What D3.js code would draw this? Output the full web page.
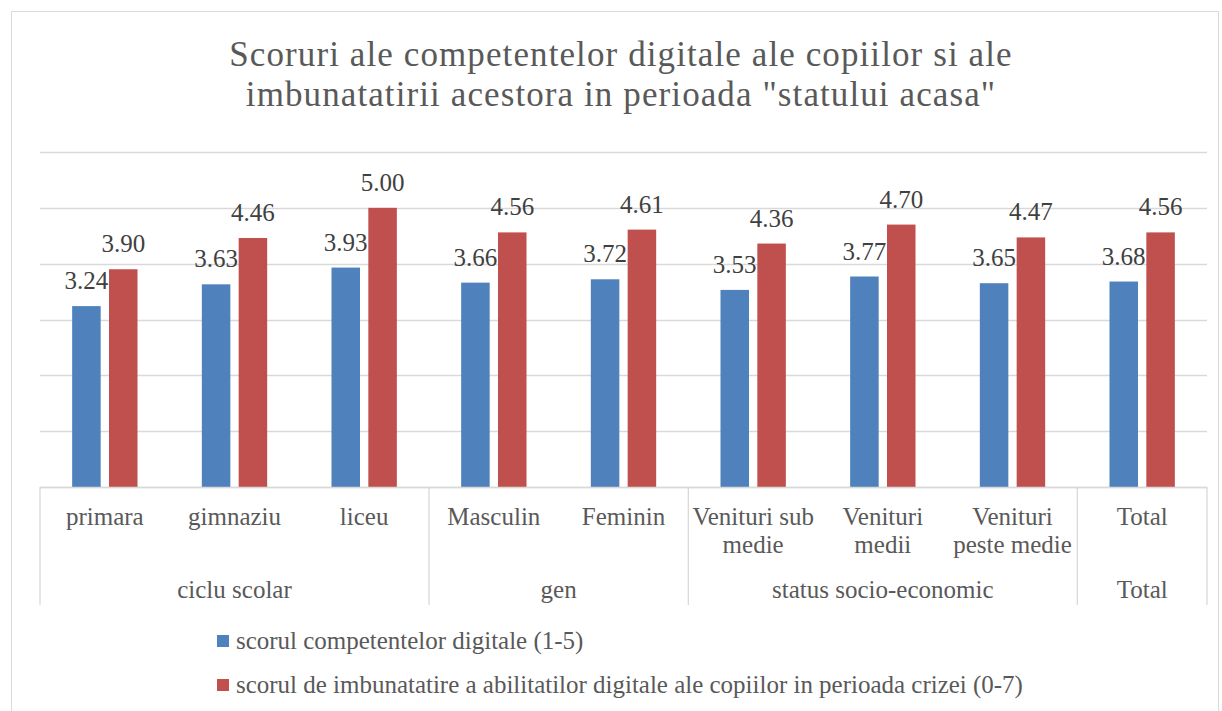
<!DOCTYPE html>
<html><head><meta charset="utf-8">
<script src="https://cdn.jsdelivr.net/npm/d3@7"></script>
<style>body{margin:0;background:#fff}svg{display:block}text{font-family:"Liberation Serif","Times New Roman",serif}</style>
</head><body>
<svg id="c" width="1222" height="711"></svg>
<script>
const titleLines = ["Scoruri ale competentelor digitale ale copiilor si ale", "imbunatatirii acestora in perioada \"statului acasa\""];
const categories = ["primara", "gimnaziu", "liceu", "Masculin", "Feminin", "Venituri sub\nmedie", "Venituri\nmedii", "Venituri\npeste medie", "Total"];
const groups = ["ciclu scolar", "gen", "status socio-economic", "Total"];
const groupSizes = [3, 2, 3, 1];
const seriesNames = ["scorul competentelor digitale (1-5)", "scorul de imbunatatire a abilitatilor digitale ale copiilor in perioada crizei (0-7)"];
const competente = [3.24, 3.63, 3.93, 3.66, 3.72, 3.53, 3.77, 3.65, 3.68];
const imbunatatire = [3.90, 4.46, 5.00, 4.56, 4.61, 4.36, 4.70, 4.47, 4.56];
const yTicks = [0, 1, 2, 3, 4, 5, 6];
const colors = ["#4F81BD", "#C0504D"];

const svg = d3.select("#c");
const L = 40, R = 1207, T = 152, B = 487;
const grid = "#d9d9d9";

svg.append("rect").attr("x", 11.5).attr("y", 11.5).attr("width", 1207).attr("height", 720)
  .attr("fill", "none").attr("stroke", grid).attr("stroke-width", 1);

// title
const tg = svg.append("g");
titleLines.forEach((t, i) => {
  tg.append("text").attr("x", 621).attr("y", 66 + i * 39.5)
    .attr("text-anchor", "middle").attr("fill", "#595959").attr("font-size", 35)
    .attr("letter-spacing", 1.1).text(t);
});

const y = d3.scaleLinear().domain([0, 6]).range([B, T]);
const x0 = d3.scaleBand().domain(d3.range(categories.length)).range([L, R]).padding(0);
const bw = x0.bandwidth();
const x1 = d3.scaleBand().domain([0, 1]).range([bw * 0.248, bw * 0.752]).paddingInner(0.226).paddingOuter(0);

// gridlines
svg.append("g").selectAll("line").data(yTicks).join("line")
  .attr("x1", L).attr("x2", R).attr("y1", d => Math.round(y(d)) + 0.5).attr("y2", d => Math.round(y(d)) + 0.5)
  .attr("stroke", grid).attr("stroke-width", 1.3);

// bars
const series = [competente, imbunatatire];
series.forEach((vals, si) => {
  const g = svg.append("g");
  g.selectAll("rect").data(vals).join("rect")
    .attr("x", (d, i) => x0(i) + x1(si)).attr("width", x1.bandwidth())
    .attr("y", d => y(d)).attr("height", d => B - y(d))
    .attr("fill", colors[si]);
  g.selectAll("text").data(vals).join("text")
    .attr("x", (d, i) => x0(i) + x1(si) + x1.bandwidth() / 2)
    .attr("y", d => y(d) - 17)
    .attr("text-anchor", "middle").attr("fill", "#404040").attr("font-size", 25)
    .text(d => d.toFixed(2));
});

// category axis
const ax = svg.append("g");
ax.append("line").attr("x1", L).attr("x2", R).attr("y1", B + 0.5).attr("y2", B + 0.5).attr("stroke", grid).attr("stroke-width", 1.3);
let cum = 0;
const bounds = [0];
groupSizes.forEach(s => { cum += s; bounds.push(cum); });
ax.selectAll("line.v").data(bounds).join("line").attr("class", "v")
  .attr("x1", d => d < categories.length ? x0(d) : R).attr("x2", d => d < categories.length ? x0(d) : R)
  .attr("y1", B).attr("y2", 605).attr("stroke", grid).attr("stroke-width", 1.3);

categories.forEach((c, i) => {
  const lines = c.split("\n");
  const t = ax.append("text").attr("x", x0(i) + bw / 2).attr("y", 525)
    .attr("text-anchor", "middle").attr("fill", "#595959").attr("font-size", 25);
  lines.forEach((ln, k) => t.append("tspan").attr("x", x0(i) + bw / 2).attr("dy", k === 0 ? 0 : 28).text(ln));
});
groups.forEach((g, gi) => {
  const a = x0(bounds[gi]);
  const b = bounds[gi + 1] < categories.length ? x0(bounds[gi + 1]) : R;
  ax.append("text").attr("x", (a + b) / 2).attr("y", 598).attr("text-anchor", "middle")
    .attr("fill", "#595959").attr("font-size", 25).text(g);
});

// legend
const lg = svg.append("g");
const lt = seriesNames.map((n, i) => {
  lg.append("rect").attr("x", 217).attr("y", 635 + i * 44).attr("width", 12).attr("height", 12).attr("fill", colors[i]);
  return lg.append("text").attr("x", 236).attr("y", 649 + i * 44).attr("fill", "#595959").attr("font-size", 22).text(n);
});
const lw = lt[1].node().getComputedTextLength();
const ls = 22 * 787 / lw;
lt.forEach(t => t.attr("font-size", ls));
</script>
</body></html>
